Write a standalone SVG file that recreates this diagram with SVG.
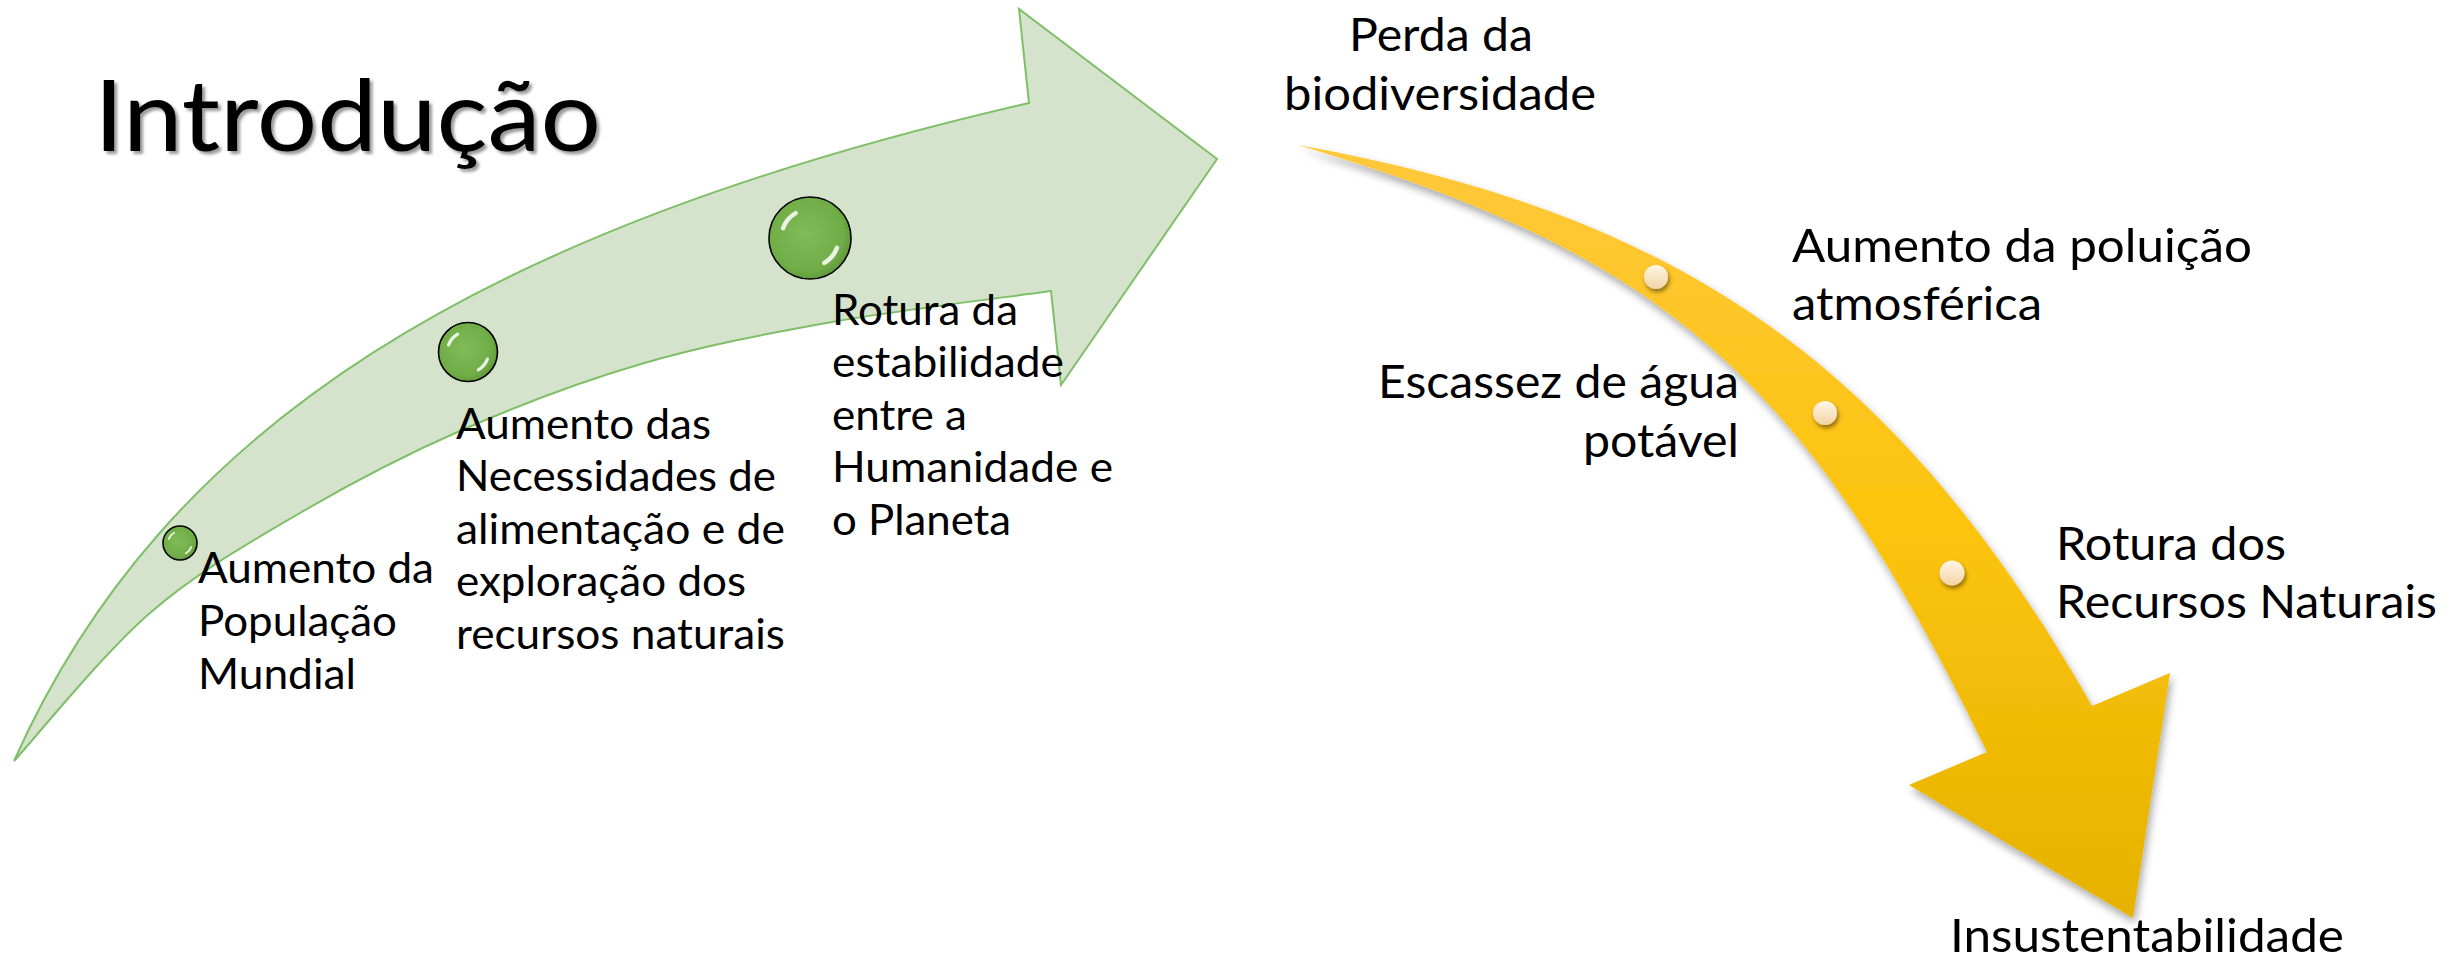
<svg xmlns="http://www.w3.org/2000/svg" xmlns:xlink="http://www.w3.org/1999/xlink" width="2450" height="958" viewBox="0 0 2450 958">
<style>
.t{font-family:Lato,"Liberation Sans",sans-serif;fill:#000}
.s{font-size:42px}
.b{font-size:47px}
.title{font-family:Lato,"Liberation Sans",sans-serif;font-size:99px;font-weight:400;fill:#000}
</style>
<defs>
<radialGradient id="gdotFill" cx="0.45" cy="0.45" r="0.6">
<stop offset="0" stop-color="#80BC58"/>
<stop offset="0.75" stop-color="#70AD47"/>
<stop offset="1" stop-color="#5C9238"/>
</radialGradient>
<linearGradient id="ydotFill" x1="0" y1="0" x2="0" y2="1">
<stop offset="0" stop-color="#FFF6E6"/>
<stop offset="1" stop-color="#F3D3A6"/>
</linearGradient>
<linearGradient id="yellowFill" gradientUnits="userSpaceOnUse" x1="0" y1="145" x2="0" y2="918">
<stop offset="0" stop-color="#FFC83C"/>
<stop offset="0.5" stop-color="#FCC40C"/>
<stop offset="1" stop-color="#E5B200"/>
</linearGradient>
<filter id="yshadow" x="-10%" y="-10%" width="130%" height="130%">
<feDropShadow dx="2" dy="5" stdDeviation="4" flood-color="#000" flood-opacity="0.35"/>
</filter>
<filter id="dshadow" x="-50%" y="-50%" width="200%" height="200%">
<feDropShadow dx="1.5" dy="3" stdDeviation="2" flood-color="#000" flood-opacity="0.45"/>
</filter>
<filter id="tshadow" x="-5%" y="-10%" width="115%" height="130%">
<feDropShadow dx="3" dy="3" stdDeviation="1.5" flood-color="#000" flood-opacity="0.4"/>
</filter>
<g id="gdot">
<circle r="1" fill="url(#gdotFill)" stroke="#000" stroke-width="1.6" vector-effect="non-scaling-stroke"/>
<path d="M -0.658 -0.239 A 0.7 0.7 0 0 1 -0.35 -0.606" fill="none" stroke="#fff" stroke-width="0.11" stroke-linecap="round" opacity="0.85"/>
<path d="M 0.658 0.239 A 0.7 0.7 0 0 1 0.35 0.606" fill="none" stroke="#fff" stroke-width="0.11" stroke-linecap="round" opacity="0.85"/>
</g>
<circle id="ydot" r="1" fill="url(#ydotFill)"/>
</defs>
<rect width="2450" height="958" fill="#fff"/>

<g id="connectors">
<path id="green-arrow" d="M 14 761 C 164.6 422.8 483.6 229 1029 103 L 1019 9 L 1217 159 L 1061 385 L 1051 291 C 1014.5 296.2 900.3 309.8 832 322 C 763.7 334.2 702.7 346 641 364 C 579.3 382 518.8 405.2 462 430 C 405.2 454.8 352 482.5 300 513 C 248 543.5 197.7 571.7 150 613 C 102.3 654.3 36.7 736.3 14 761 Z" fill="#D5E3CC" stroke="#7FBF68" stroke-width="2" stroke-linejoin="miter"/>
<path id="yellow-arrow" d="M 1298 145 C 1676 213 1895 360 2092 706 L 2170 673 L 2133 918 L 1909 785 L 1987 752 C 1805 377 1667 255 1298 145 Z" fill="url(#yellowFill)" filter="url(#yshadow)"/>
</g>

<g id="title">
<text class="title" x="94" y="151" textLength="507" lengthAdjust="spacingAndGlyphs" filter="url(#tshadow)">Introdução</text>
</g>

<g id="node-populacao">
<use xlink:href="#gdot" transform="translate(180,543) scale(17)"/>
<text class="t s" x="198" y="583" textLength="236" lengthAdjust="spacingAndGlyphs">Aumento da</text>
<text class="t s" x="198" y="636" textLength="199" lengthAdjust="spacingAndGlyphs">População</text>
<text class="t s" x="198" y="689" textLength="158" lengthAdjust="spacingAndGlyphs">Mundial</text>
</g>

<g id="node-necessidades">
<use xlink:href="#gdot" transform="translate(468,352) scale(29.5)"/>
<text class="t s" x="456" y="439" textLength="255" lengthAdjust="spacingAndGlyphs">Aumento das</text>
<text class="t s" x="456" y="491" textLength="320" lengthAdjust="spacingAndGlyphs">Necessidades de</text>
<text class="t s" x="456" y="544" textLength="329" lengthAdjust="spacingAndGlyphs">alimentação e de</text>
<text class="t s" x="456" y="596" textLength="290" lengthAdjust="spacingAndGlyphs">exploração dos</text>
<text class="t s" x="456" y="649" textLength="329" lengthAdjust="spacingAndGlyphs">recursos naturais</text>
</g>

<g id="node-rotura-estabilidade">
<use xlink:href="#gdot" transform="translate(810,238) scale(41)"/>
<text class="t s" x="832" y="325" textLength="186" lengthAdjust="spacingAndGlyphs">Rotura da</text>
<text class="t s" x="832" y="377" textLength="232" lengthAdjust="spacingAndGlyphs">estabilidade</text>
<text class="t s" x="832" y="430" textLength="135" lengthAdjust="spacingAndGlyphs">entre a</text>
<text class="t s" x="832" y="482" textLength="281" lengthAdjust="spacingAndGlyphs">Humanidade e</text>
<text class="t s" x="832" y="535" textLength="179" lengthAdjust="spacingAndGlyphs">o Planeta</text>
</g>

<g id="node-biodiversidade">
<text class="t b" x="1349" y="51" textLength="184" lengthAdjust="spacingAndGlyphs">Perda da</text>
<text class="t b" x="1284" y="110" textLength="312" lengthAdjust="spacingAndGlyphs">biodiversidade</text>
</g>

<g id="node-poluicao">
<g filter="url(#dshadow)"><use xlink:href="#ydot" transform="translate(1656,277) scale(12)"/></g>
<text class="t b" x="1792" y="262" textLength="460" lengthAdjust="spacingAndGlyphs">Aumento da poluição</text>
<text class="t b" x="1792" y="320" textLength="250" lengthAdjust="spacingAndGlyphs">atmosférica</text>
</g>

<g id="node-agua">
<g filter="url(#dshadow)"><use xlink:href="#ydot" transform="translate(1825,413) scale(12)"/></g>
<text class="t b" x="1378" y="398" textLength="361" lengthAdjust="spacingAndGlyphs">Escassez de água</text>
<text class="t b" x="1583" y="457" textLength="156" lengthAdjust="spacingAndGlyphs">potável</text>
</g>

<g id="node-recursos">
<g filter="url(#dshadow)"><use xlink:href="#ydot" transform="translate(1952,573) scale(12.5)"/></g>
<text class="t b" x="2056" y="560" textLength="230" lengthAdjust="spacingAndGlyphs">Rotura dos</text>
<text class="t b" x="2056" y="618" textLength="381" lengthAdjust="spacingAndGlyphs">Recursos Naturais</text>
</g>

<g id="node-insustentabilidade">
<text class="t b" x="1950" y="952" textLength="394" lengthAdjust="spacingAndGlyphs">Insustentabilidade</text>
</g>
</svg>
